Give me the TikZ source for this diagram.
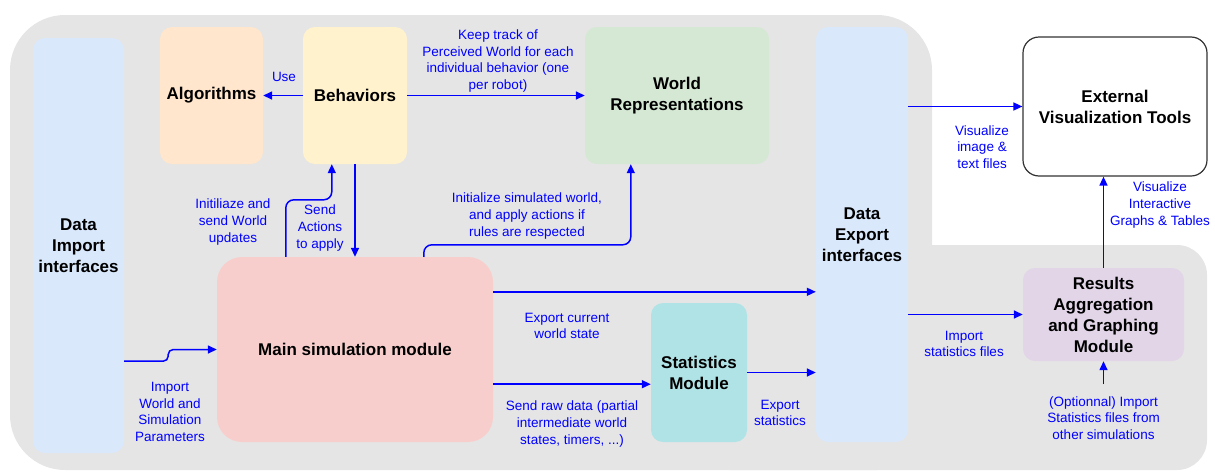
\documentclass[tikz,border=0pt]{standalone}
\usepackage{fontspec}
\setmainfont{Liberation Sans}
\usepackage{xcolor}
\usepackage{tikz}
\usetikzlibrary{arrows.meta, positioning, calc}

\definecolor{ifaceblue}{HTML}{DAE8FC}
\definecolor{algoorange}{HTML}{FFE6CC}
\definecolor{behavyellow}{HTML}{FFF2CC}
\definecolor{worldgreen}{HTML}{D5E8D4}
\definecolor{mainred}{HTML}{F8CECC}
\definecolor{statcyan}{HTML}{B0E3E6}
\definecolor{resultpurple}{HTML}{E1D5E7}

\begin{document}
\begin{tikzpicture}[x=1pt, y=-1pt,
  box/.style={rounded corners=12pt, inner sep=0pt, align=center,
              font=\fontsize{17}{21}\selectfont\bfseries},
  lbl/.style={text=blue, align=center, inner sep=0pt,
              font=\fontsize{13.5}{16.7}\selectfont},
  arrow/.style={-{Triangle[length=9pt,width=8pt]}, line width=1.5pt, blue}
]
  \useasboundingbox (0,0) rectangle (1215,472);

  % grey background area
  \fill[gray!20, rounded corners=55pt] (10,15) rectangle (932,470);
  \fill[gray!20, rounded corners=30pt] (700,245) rectangle (1207,470);

  \node[box, fill=ifaceblue, minimum width=91, minimum height=415] (import) at (78.5,245.5) {Data\\Import\\interfaces};
  \node[box, fill=algoorange, minimum width=103, minimum height=137] (algo) at (211.5,95.5) {Algorithms};
  \node[box, fill=behavyellow, minimum width=104, minimum height=137] (behav) at (355,95.5) {Behaviors};
  \node[box, fill=worldgreen, minimum width=184, minimum height=137] (world) at (677,95.5) {World\\Representations};
  \node[box, fill=ifaceblue, minimum width=92, minimum height=415] (export) at (862,234.5) {Data\\Export\\interfaces};
  \node[box, draw=black!80, line width=1.2pt, fill=white, rounded corners=16pt,
        minimum width=184, minimum height=139] (ext) at (1115,106.5) {External\\Visualization Tools};
  \node[box, fill=mainred, rounded corners=25pt, minimum width=276, minimum height=185] (main) at (355,349.5) {Main simulation module};
  \node[box, fill=statcyan, minimum width=96, minimum height=139] (stats) at (699,372.5) {Statistics\\Module};
  \node[box, fill=resultpurple, minimum width=161, minimum height=93] (results) at (1103.5,314.5) {Results\\Aggregation\\and Graphing\\Module};

  % labels
  \node[lbl] (uselbl) at (284,77) {Use};
  \node[lbl] (tracklbl) at (498,61) {Keep track of\\Perceived World for each\\individual behavior (one\\per robot)};
  \node[lbl] (updlbl) at (233,222) {Initiliaze and\\send World\\updates};
  \node[lbl] (actlbl) at (320,228) {Send\\Actions\\to apply};
  \node[lbl] (initlbl) at (527,216) {Initialize simulated world,\\and apply actions if\\rules are respected};
  \node[lbl] (paramlbl) at (170,412) {Import\\World and\\Simulation\\Parameters};
  \node[lbl] (curlbl) at (567,326) {Export current\\world state};
  \node[lbl] (rawlbl) at (572,424) {Send raw data (partial\\intermediate world\\states, timers, ...)};
  \node[lbl] (explbl) at (780,413) {Export\\statistics};
  \node[lbl] (implbl) at (964,344) {Import\\statistics files};
  \node[lbl] (imglbl) at (982,147) {Visualize\\image \&\\text files};
  \node[lbl] (graphlbl) at (1160,205) {Visualize\\Interactive\\Graphs \& Tables};
  \node[lbl] (optlbl) at (1103.5,418) {(Optionnal) Import\\Statistics files from\\other simulations};

  \coordinate (paramsrc) at ($(import.south east)+(0,-92)$);
  \coordinate (curout) at ([yshift=-35pt]main.north east);
  \coordinate (rawout) at ([yshift=58pt]main.south east);
  \coordinate (optsrc) at (1103.5,384);

  \draw[arrow] (behav.west) -- (algo.east);
  \draw[arrow] (behav.east) -- (world.west);
  \draw[arrow] (behav.south) -- (behav.south |- main.north);
  \draw[arrow, rounded corners=8pt] ([xshift=69pt]main.north west) -- ++(0,-57) -| ([xshift=29pt]behav.south west);
  \draw[arrow, rounded corners=8pt] ([xshift=207pt]main.north west) -- ++(0,-12) -| ([xshift=46pt]world.south west);
  \draw[arrow, rounded corners=5pt] (paramsrc) -- ++(44,0) |- (main.west);
  \draw[arrow] (curout) -- (curout -| export.west);
  \draw[arrow] (rawout) -- (rawout -| stats.west);
  \draw[arrow] (stats.east) -- (stats.east -| export.west);
  \draw[arrow] (results.west -| export.east) -- (results.west);
  \draw[arrow] (ext.west -| export.east) -- (ext.west);
  \draw[arrow] (results.north) -- (results.north |- ext.south);
  \draw[arrow] (optsrc) -- (results.south);
\end{tikzpicture}
\end{document}
